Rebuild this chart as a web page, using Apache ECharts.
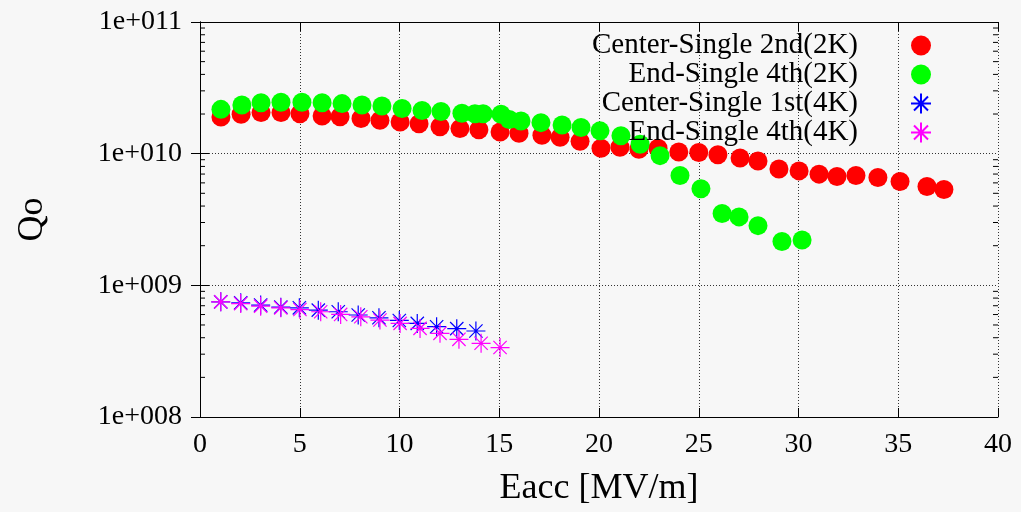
<!DOCTYPE html>
<html><head><meta charset="utf-8">
<script src="https://cdn.jsdelivr.net/npm/echarts@6/dist/echarts.min.js"></script>
<style>html,body{margin:0;padding:0;background:#f7f7f7}#c{width:1021px;height:512px}</style>
</head><body><div id="c"></div>
<script>
const seriesNames = ['Center-Single 2nd(2K)', 'End-Single 4th(2K)', 'Center-Single 1st(4K)', 'End-Single 4th(4K)'];
const centerSingle2nd2K = [
  [1.05,1.90e10],[2.06,1.99e10],[3.06,2.05e10],[4.06,2.05e10],[5.01,2.01e10],[6.12,1.93e10],[7.02,1.91e10],
  [8.07,1.85e10],[9.02,1.79e10],[10.03,1.74e10],[10.98,1.69e10],[12.03,1.60e10],[13.03,1.55e10],[13.98,1.52e10],
  [15.04,1.46e10],[15.99,1.43e10],[17.14,1.38e10],[18.05,1.33e10],[19.05,1.24e10],[20.1,1.10e10],[21.05,1.12e10],
  [22.0,1.08e10],[22.96,1.10e10],[24.0,1.03e10],[25.0,1.02e10],[25.96,9.8e9],[27.07,9.27e9],[27.97,8.8e9],
  [29.02,7.66e9],[30.03,7.4e9],[31.03,6.99e9],[31.93,6.7e9],[32.88,6.82e9],[33.98,6.59e9],[35.09,6.15e9],
  [36.44,5.64e9],[37.29,5.35e9]
];
const endSingle4th2K = [
  [1.05,2.17e10],[2.1,2.34e10],[3.06,2.44e10],[4.06,2.46e10],[5.11,2.46e10],[6.12,2.44e10],[7.12,2.40e10],
  [8.12,2.34e10],[9.12,2.30e10],[10.13,2.20e10],[11.13,2.13e10],[12.08,2.09e10],[13.13,2.03e10],[13.78,2.01e10],
  [14.19,2.01e10],[15.09,1.99e10],[15.5,1.82e10],[16.09,1.77e10],[17.09,1.72e10],[18.15,1.65e10],[19.1,1.58e10],
  [20.05,1.49e10],[21.1,1.37e10],[22.06,1.18e10],[23.06,9.66e9],[24.06,6.82e9],[25.11,5.42e9],[26.17,3.51e9],
  [27.02,3.31e9],[27.97,2.84e9],[29.17,2.15e9],[30.18,2.21e9]
];
const centerSingle1st4K = [
  [1.04,7.49e8],[2.04,7.36e8],[3.04,7.08e8],[4.05,6.83e8],[4.98,6.75e8],[5.93,6.48e8],[6.93,6.30e8],
  [7.93,5.95e8],[8.97,5.67e8],[9.99,5.41e8],[10.89,5.14e8],[11.86,4.85e8],[12.87,4.69e8],[13.83,4.50e8]
];
const endSingle4th4K = [
  [1.04,7.49e8],[2.04,7.27e8],[3.04,6.95e8],[4.05,6.75e8],[5.01,6.55e8],[6.05,6.30e8],[7.05,6.01e8],
  [8.06,5.77e8],[9.02,5.45e8],[10.03,5.14e8],[11.03,4.71e8],[12.03,4.32e8],[12.98,3.89e8],[14.09,3.63e8],[15.04,3.37e8]
];
const minorTickValues = [];
[8,9,10].forEach(e => { for (let m = 2; m <= 9; m++) minorTickValues.push(m * Math.pow(10, e)); });

const FONT = 'Liberation Serif';
const star = 'path://M0,10L20,10M10,0L10,20M3,3L17,17M17,3L3,17M9,9L11,9L11,11L9,11Z';
const chart = echarts.init(document.getElementById('c'));
const expLabel = v => { const e = Math.round(Math.log10(v)); return '1e+' + String(e).padStart(3, '0'); };
chart.setOption({
  backgroundColor: '#f7f7f7',
  animation: false,
  grid: { left: 200, right: 23, top: 22, bottom: 92 },
  legend: {
    orient: 'vertical', right: 84, top: 26, align: 'right',
    itemWidth: 20, itemHeight: 20, itemGap: 0,
    textStyle: { fontFamily: FONT, fontSize: 29, lineHeight: 29, color: '#000', padding: [0, 48, 0, 0] },
    data: seriesNames
  },
  xAxis: [{
    type: 'value', min: 0, max: 40, interval: 5,
    name: 'Eacc [MV/m]', nameLocation: 'middle', nameGap: 54,
    nameTextStyle: { fontFamily: FONT, fontSize: 36, color: '#000' },
    axisLine: { show: true, lineStyle: { color: '#000', width: 1 } },
    axisTick: { inside: true, length: 9, lineStyle: { color: '#000' } },
    axisLabel: { fontFamily: FONT, fontSize: 28, color: '#000', margin: 14 },
    splitLine: { show: true, lineStyle: { color: '#333', type: [1, 2], width: 1 } }
  }, {
    type: 'value', min: 0, max: 40, interval: 5, position: 'top',
    axisLine: { show: true, lineStyle: { color: '#000', width: 1 } },
    axisTick: { inside: true, length: 9, lineStyle: { color: '#000' } },
    axisLabel: { show: false }, splitLine: { show: false }
  }],
  yAxis: [{
    type: 'log', logBase: 10, min: 1e8, max: 1e11,
    name: 'Qo', nameLocation: 'middle', nameGap: 149, nameRotate: 90,
    nameTextStyle: { fontFamily: FONT, fontSize: 36, color: '#000' },
    axisLine: { show: true, lineStyle: { color: '#000', width: 1 } },
    axisTick: { inside: true, length: 9, lineStyle: { color: '#000' } },
    axisLabel: { fontFamily: FONT, fontSize: 28, color: '#000', margin: 18, formatter: expLabel },
    splitLine: { show: true, lineStyle: { color: '#333', type: [1, 2], width: 1 } },
    minorTick: { show: false }
  }, {
    type: 'log', logBase: 10, min: 1e8, max: 1e11, position: 'right',
    axisLine: { show: true, lineStyle: { color: '#000', width: 1 } },
    axisTick: { inside: true, length: 9, lineStyle: { color: '#000' } },
    axisLabel: { show: false }, splitLine: { show: false }
  }],
  series: [
    { name: seriesNames[0], type: 'scatter', data: centerSingle2nd2K, symbol: 'circle', symbolSize: 19,
      itemStyle: { color: '#ff0000', opacity: 1 } },
    { name: seriesNames[1], type: 'scatter', data: endSingle4th2K, symbol: 'circle', symbolSize: 19,
      itemStyle: { color: '#00ff00', opacity: 1 } },
    { name: seriesNames[2], type: 'scatter', data: centerSingle1st4K, symbol: star, symbolSize: 19,
      itemStyle: { color: '#0000ff', borderColor: '#0000ff', borderWidth: 1.2, opacity: 1 } },
    { name: seriesNames[3], type: 'scatter', data: endSingle4th4K, symbol: star, symbolSize: 19,
      itemStyle: { color: '#ff00ff', borderColor: '#ff00ff', borderWidth: 1.2, opacity: 1 } },
    { type: 'custom', silent: true, data: minorTickValues.map(v => [0, v]),
      renderItem: (params, api) => {
        const cs = params.coordSys;
        const p = api.coord([0, api.value(1)]);
        const y = p[1];
        return { type: 'group', children: [
          { type: 'line', shape: { x1: cs.x, y1: y, x2: cs.x + 5, y2: y }, style: { stroke: '#000', lineWidth: 1 } },
          { type: 'line', shape: { x1: cs.x + cs.width - 5, y1: y, x2: cs.x + cs.width, y2: y }, style: { stroke: '#000', lineWidth: 1 } }
        ] };
      } }
  ]
});
</script></body></html>
